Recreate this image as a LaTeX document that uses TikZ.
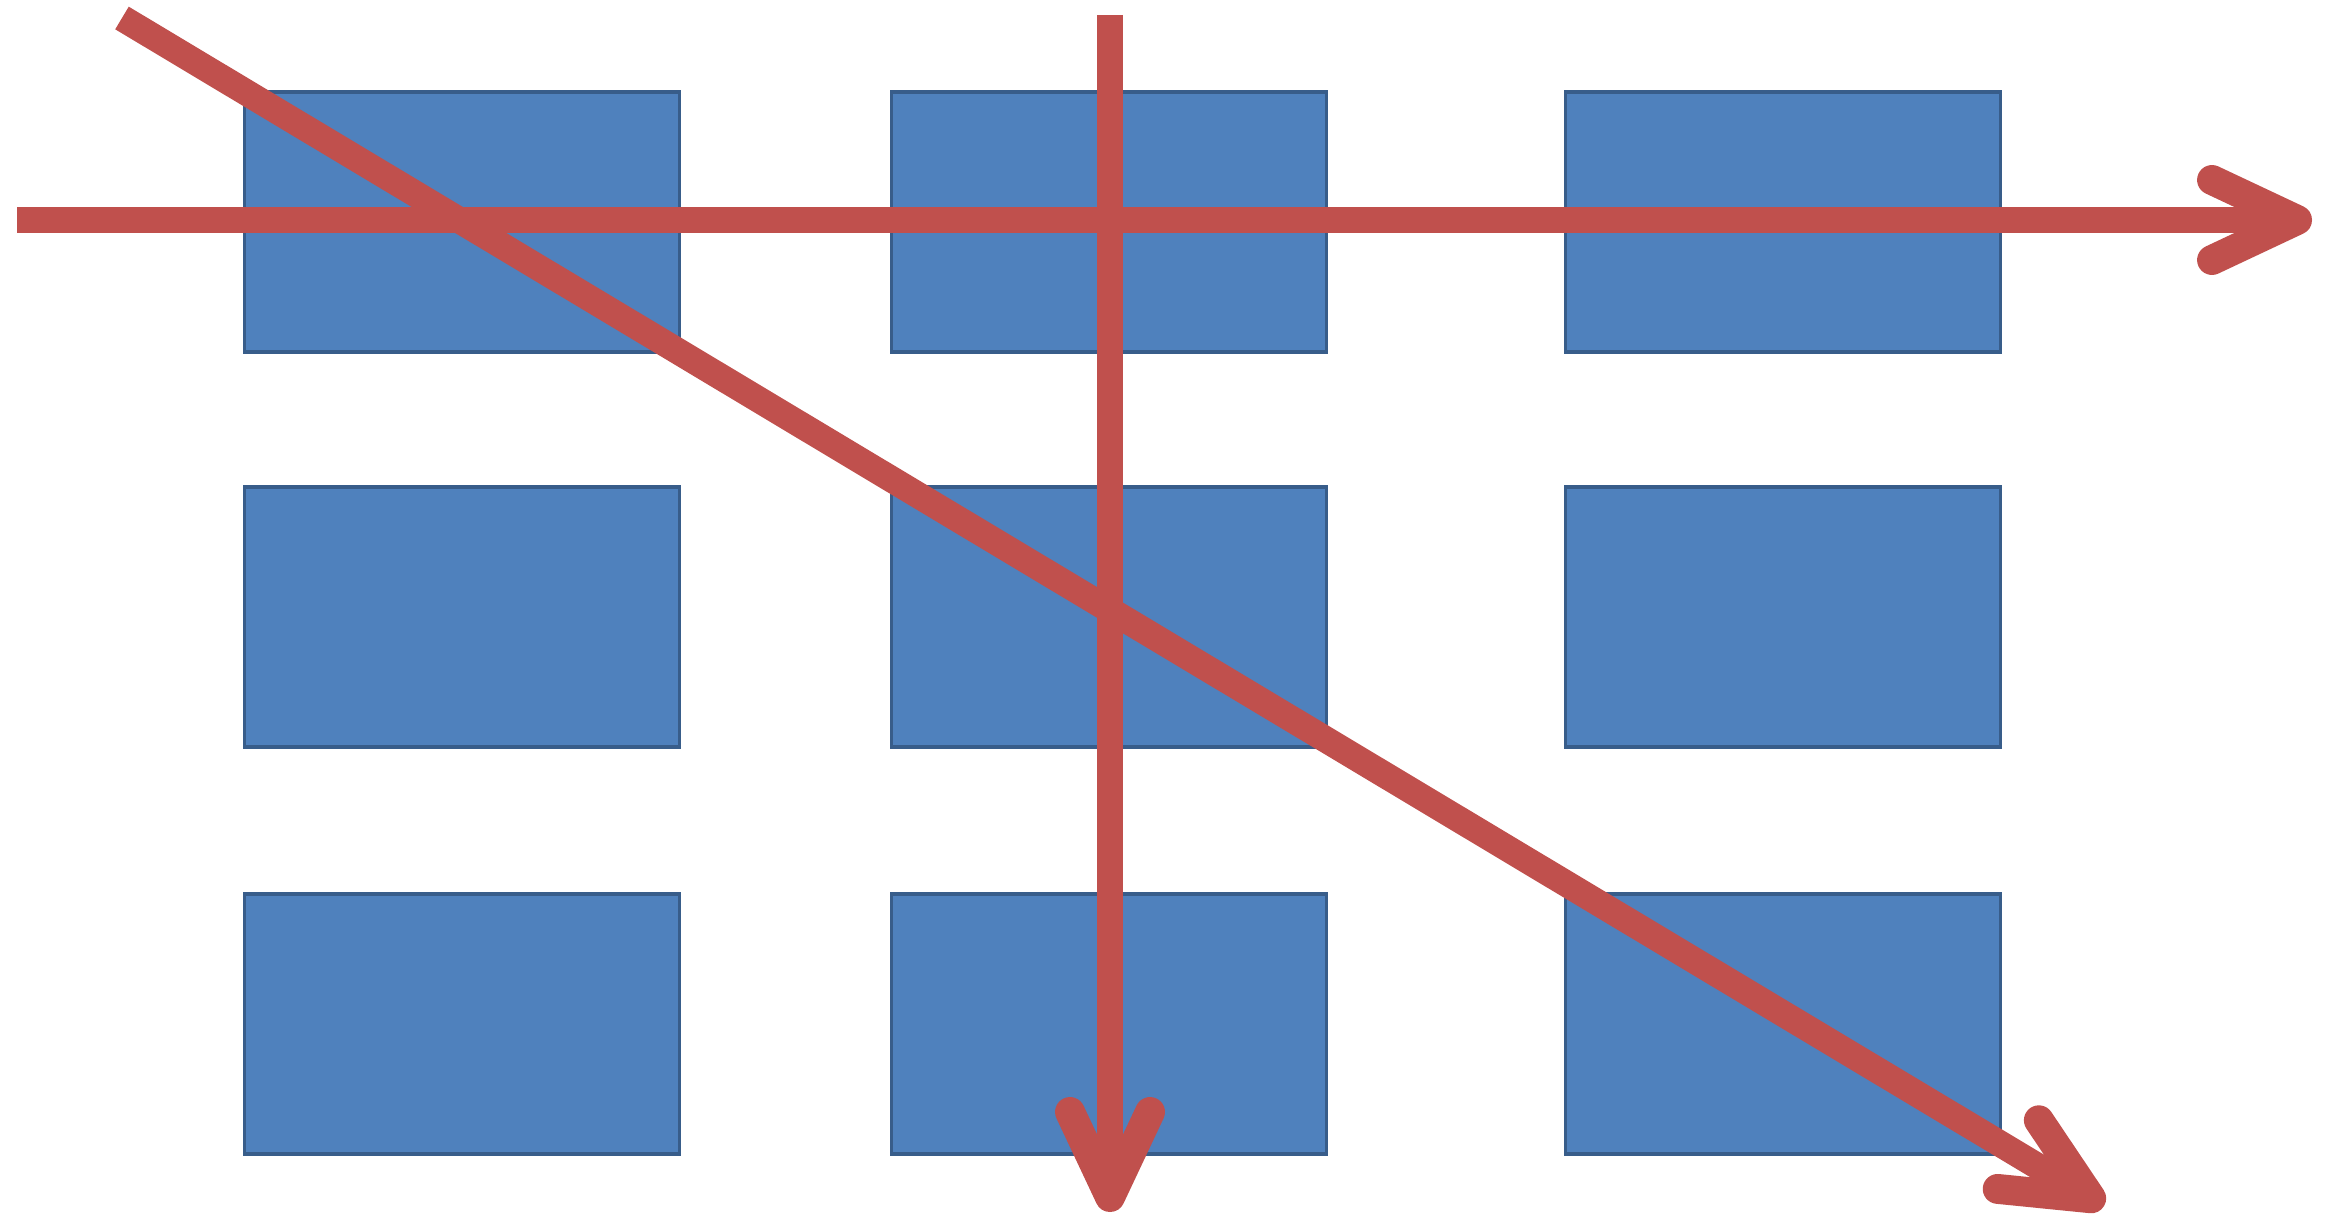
\documentclass[tikz,border=0pt]{standalone}
\usepackage{tikz}
\usetikzlibrary{arrows.meta}

\definecolor{boxblue}{HTML}{4F81BD}
\definecolor{boxedge}{HTML}{385D8A}
\definecolor{linered}{HTML}{C0504D}

\begin{document}
\begin{tikzpicture}[x=0.01cm,y=-0.01cm,
    cell/.style={draw=boxedge,line width=1pt,fill=boxblue,minimum width=4.35cm,minimum height=2.6cm,inner sep=0pt},
    scan/.style={linered,line width=7.5pt,-{Straight Barb[round,length=0.85cm,width=0.8cm,line width=8.5pt]}}]
                \useasboundingbox (0,0) rectangle (2328,1228);

                % Grid of boxes
                \node[cell] (a1) at (462,222) {};
                \node[cell] (a2) at (1109,222) {};
                \node[cell] (a3) at (1783,222) {};
                \node[cell] (b1) at (462,617) {};
                \node[cell] (b2) at (1109,617) {};
                \node[cell] (b3) at (1783,617) {};
                \node[cell] (c1) at (462,1024) {};
                \node[cell] (c2) at (1109,1024) {};
                \node[cell] (c3) at (1783,1024) {};

                % Line ends
                \coordinate (hstart) at (17,220);
                \coordinate (hend) at (2312,220);
                \coordinate (vstart) at (1110,15);
                \coordinate (vend) at (1110,1212);
                \coordinate (dstart) at (122,18);
                \coordinate (dend) at (2104,1206);

                % Scan directions
                \draw[scan] (hstart) -- (hend);
                \draw[scan] (vstart) -- (vend);
                \draw[scan] (dstart) -- (dend);
            \end{tikzpicture}
\end{document}
